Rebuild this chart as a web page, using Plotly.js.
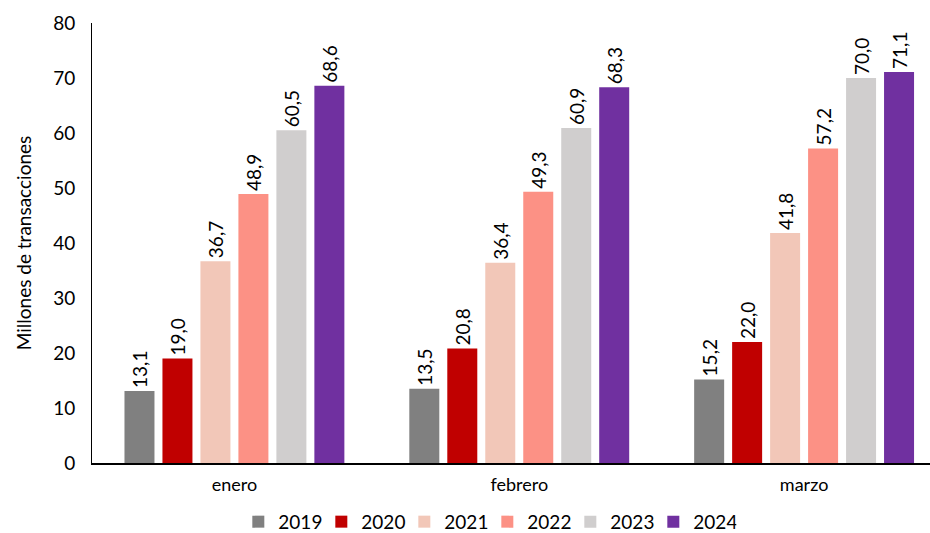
<!DOCTYPE html>
<html><head><meta charset="utf-8">
<script src="https://cdn.plot.ly/plotly-3.0.1.min.js"></script>
<style>body{margin:0;background:#fff}#c{width:930px;height:533px}</style>
</head><body><div id="c"></div>
<script>
const categories = ["enero", "febrero", "marzo"];
const years = ["2019", "2020", "2021", "2022", "2023", "2024"];
const v2019 = [13.1, 13.5, 15.2];
const v2020 = [19.0, 20.8, 22.0];
const v2021 = [36.7, 36.4, 41.8];
const v2022 = [48.9, 49.3, 57.2];
const v2023 = [60.5, 60.9, 70.0];
const v2024 = [68.6, 68.3, 71.1];
const series = [v2019, v2020, v2021, v2022, v2023, v2024];
const colors = ["#808080", "#C00000", "#F2C7B8", "#FC9185", "#D0CECE", "#7030A0"];
const font = "Lato, 'Noto Sans', sans-serif";

const traces = series.map((vals, i) => ({
  type: "bar", name: years[i], x: categories, y: vals,
  marker: {color: colors[i]},
  text: vals.map(v => v.toFixed(1).replace(".", ",")),
  textposition: "outside", textangle: -90, constraintext: "none",
  textfont: {family: font, size: 19, color: "#000"},
  cliponaxis: false, hoverinfo: "skip"
}));

Plotly.newPlot("c", traces, {
  width: 930, height: 533,
  margin: {l: 91.5, r: 0, t: 23, b: 70},
  paper_bgcolor: "#fff", plot_bgcolor: "#fff",
  barmode: "group", bargap: 0.2, bargroupgap: 0.21,
  font: {family: font, color: "#000"},
  separators: ",.",
  xaxis: {range: [-0.5, 2.442], showline: true, linecolor: "#000", linewidth: 1.5,
          ticks: "", tickfont: {size: 18, family: font}, showgrid: false, zeroline: false,
          ticklabelstandoff: 5},
  yaxis: {range: [0, 80], dtick: 10, showline: true, linecolor: "#000", linewidth: 1,
          ticks: "", showgrid: false, zeroline: false, tickfont: {size: 19, family: font},
          ticklabelstandoff: 12,
          title: {text: "Millones de transacciones", font: {size: 19, family: font}, standoff: 16}},
  showlegend: true,
  legend: {orientation: "h", xref: "container", yref: "container",
           x: 0.524, xanchor: "center", y: 0.021, yanchor: "middle",
           entrywidth: 38, entrywidthmode: "pixels",
           font: {size: 19, family: font}, itemwidth: 30, traceorder: "normal"}
}, {displayModeBar: false, staticPlot: true});
</script></body></html>
